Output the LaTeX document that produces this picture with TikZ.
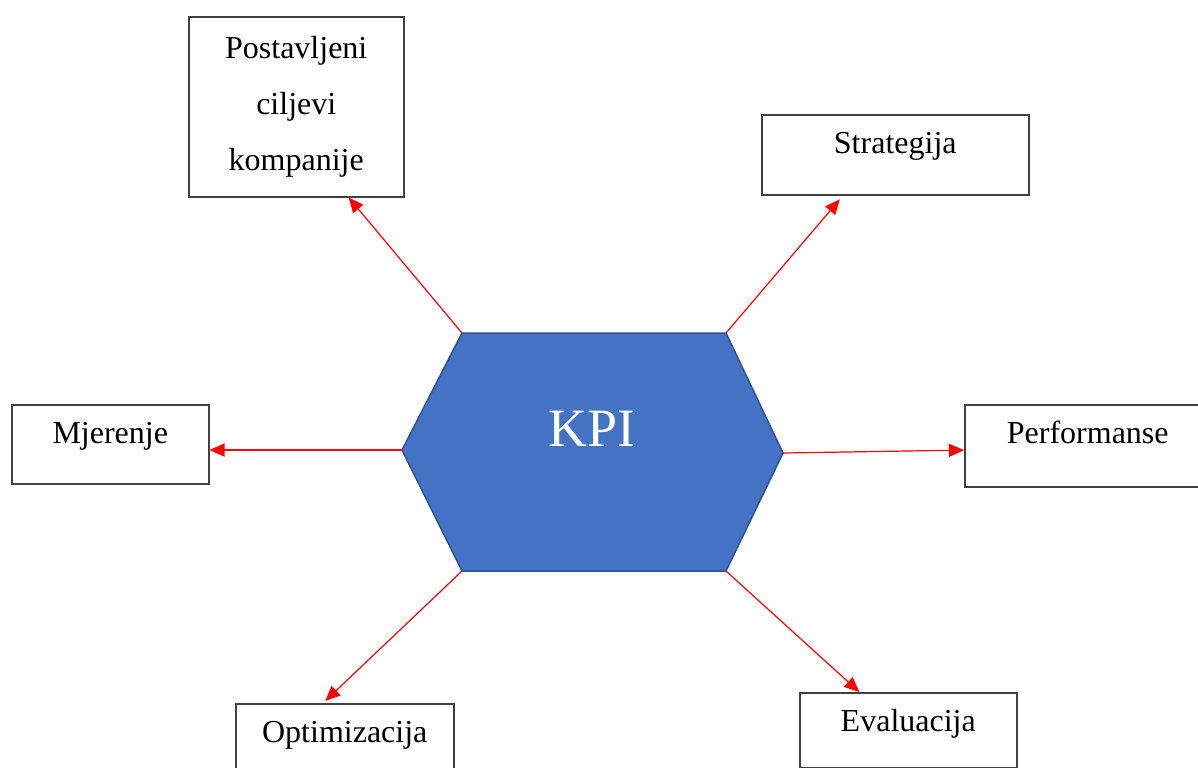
\documentclass[tikz,border=0pt]{standalone}
\usepackage{fontspec}
\setmainfont{Liberation Serif}
\usetikzlibrary{arrows.meta}
\definecolor{HexClr}{rgb}{0.267,0.447,0.769}
\definecolor{HexLineClr}{rgb}{0.184,0.322,0.561}
\definecolor{BoxLineClr}{rgb}{0.25,0.25,0.25}

\begin{document}
\begin{tikzpicture}[x=0.5pt,y=-0.5pt,
  kbox/.style={draw=BoxLineClr,line width=0.75pt,inner sep=0pt,anchor=north west,
    font=\fontsize{16}{28}\selectfont},
  onerow/.style={text height=19.5pt},
  kline/.style={red,line width=0.6pt,-{Triangle[length=7.5pt,width=6.5pt]}}]
\useasboundingbox (0,0) rectangle (1198,767);

\coordinate (hTL) at (462,333);
\coordinate (hTR) at (726,333);
\coordinate (hR) at (783,453);
\coordinate (hBR) at (726,571);
\coordinate (hBL) at (462,571);
\coordinate (hL) at (402,450);

\filldraw[fill=HexClr,draw=HexLineClr,line width=0.75pt]
  (hTL) -- (hTR) -- (hR) -- (hBR) -- (hBL) -- (hL) -- cycle;
\node[text=white,font=\fontsize{27}{32}\selectfont,anchor=base] (kpi) at (592,446) {KPI};

\node[kbox,minimum width=107.5pt,minimum height=90pt,align=center] (goals) at (188,16) {Postavljeni\\ciljevi\\kompanije};
\node[kbox,onerow,minimum width=133.5pt,text depth=20.5pt] (strat) at (761,114) {Strategija};
\node[kbox,onerow,minimum width=98.5pt,text depth=20pt] (measure) at (11,404) {Mjerenje};
\node[kbox,onerow,minimum width=123pt,text depth=21.5pt] (perf) at (964,404) {Performanse};
\node[kbox,onerow,minimum width=109pt,text depth=20.5pt] (optim) at (235,703) {Optimizacija};
\node[kbox,onerow,minimum width=108.5pt,text depth=18pt] (eval) at (799,692) {Evaluacija};

\draw[kline] (hTL) -- (goals.-60);
\draw[kline,shorten >=2.5pt] (hTR) -- (strat.-142);
\draw[kline] (hL) -- (hL -| measure.east);
\draw[kline] (hR) -- (perf.-178);
\draw[kline,shorten >=1.5pt] (hBL) -- (optim.118);
\draw[kline] (hBR) -- (eval.142);

\end{tikzpicture}
\end{document}
